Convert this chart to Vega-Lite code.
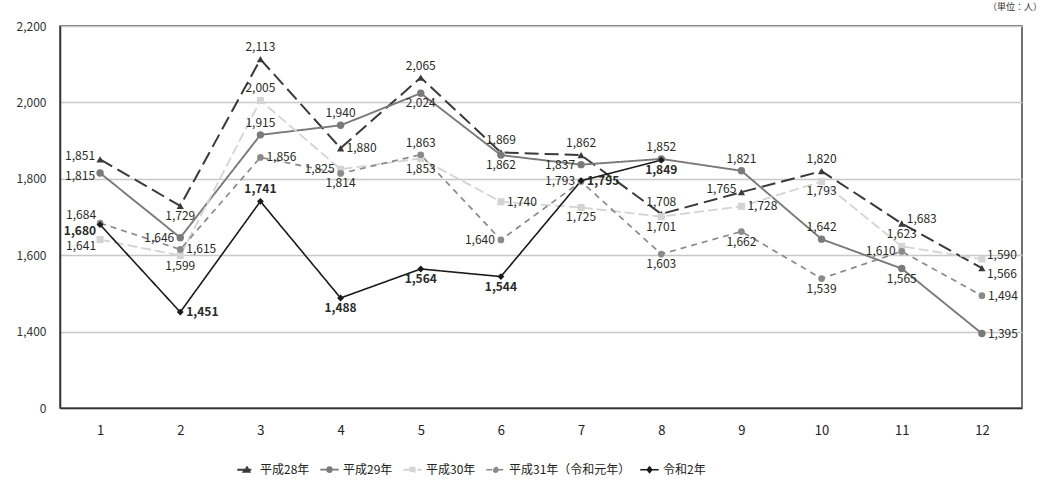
{
  "$schema": "https://vega.github.io/schema/vega-lite/v6.json",
  "width": 962,
  "height": 382,
  "autosize": {"type": "none"},
  "padding": {"left": 60, "top": 26, "right": 32, "bottom": 84},
  "background": "white",
  "config": {
    "font": "Noto Sans CJK JP",
    "view": {"stroke": "#444", "strokeWidth": 1.5}
  },
  "title": {"text": "（単位：人）", "anchor": "end", "fontSize": 9, "fontWeight": "normal", "color": "#333", "offset": 8, "dx": 20},
  "data": {
    "values": [
      {"series": "平成28年", "month": 1, "value": 1851},
      {"series": "平成28年", "month": 2, "value": 1729},
      {"series": "平成28年", "month": 3, "value": 2113},
      {"series": "平成28年", "month": 4, "value": 1880},
      {"series": "平成28年", "month": 5, "value": 2065},
      {"series": "平成28年", "month": 6, "value": 1869},
      {"series": "平成28年", "month": 7, "value": 1862},
      {"series": "平成28年", "month": 8, "value": 1708},
      {"series": "平成28年", "month": 9, "value": 1765},
      {"series": "平成28年", "month": 10, "value": 1820},
      {"series": "平成28年", "month": 11, "value": 1683},
      {"series": "平成28年", "month": 12, "value": 1566},
      {"series": "平成29年", "month": 1, "value": 1815},
      {"series": "平成29年", "month": 2, "value": 1646},
      {"series": "平成29年", "month": 3, "value": 1915},
      {"series": "平成29年", "month": 4, "value": 1940},
      {"series": "平成29年", "month": 5, "value": 2024},
      {"series": "平成29年", "month": 6, "value": 1862},
      {"series": "平成29年", "month": 7, "value": 1837},
      {"series": "平成29年", "month": 8, "value": 1852},
      {"series": "平成29年", "month": 9, "value": 1821},
      {"series": "平成29年", "month": 10, "value": 1642},
      {"series": "平成29年", "month": 11, "value": 1565},
      {"series": "平成29年", "month": 12, "value": 1395},
      {"series": "平成30年", "month": 1, "value": 1641},
      {"series": "平成30年", "month": 2, "value": 1599},
      {"series": "平成30年", "month": 3, "value": 2005},
      {"series": "平成30年", "month": 4, "value": 1825},
      {"series": "平成30年", "month": 5, "value": 1853},
      {"series": "平成30年", "month": 6, "value": 1740},
      {"series": "平成30年", "month": 7, "value": 1725},
      {"series": "平成30年", "month": 8, "value": 1701},
      {"series": "平成30年", "month": 9, "value": 1728},
      {"series": "平成30年", "month": 10, "value": 1793},
      {"series": "平成30年", "month": 11, "value": 1623},
      {"series": "平成30年", "month": 12, "value": 1590},
      {"series": "平成31年（令和元年）", "month": 1, "value": 1684},
      {"series": "平成31年（令和元年）", "month": 2, "value": 1615},
      {"series": "平成31年（令和元年）", "month": 3, "value": 1856},
      {"series": "平成31年（令和元年）", "month": 4, "value": 1814},
      {"series": "平成31年（令和元年）", "month": 5, "value": 1863},
      {"series": "平成31年（令和元年）", "month": 6, "value": 1640},
      {"series": "平成31年（令和元年）", "month": 7, "value": 1793},
      {"series": "平成31年（令和元年）", "month": 8, "value": 1603},
      {"series": "平成31年（令和元年）", "month": 9, "value": 1662},
      {"series": "平成31年（令和元年）", "month": 10, "value": 1539},
      {"series": "平成31年（令和元年）", "month": 11, "value": 1610},
      {"series": "平成31年（令和元年）", "month": 12, "value": 1494},
      {"series": "令和2年", "month": 1, "value": 1680},
      {"series": "令和2年", "month": 2, "value": 1451},
      {"series": "令和2年", "month": 3, "value": 1741},
      {"series": "令和2年", "month": 4, "value": 1488},
      {"series": "令和2年", "month": 5, "value": 1564},
      {"series": "令和2年", "month": 6, "value": 1544},
      {"series": "令和2年", "month": 7, "value": 1795},
      {"series": "令和2年", "month": 8, "value": 1849}
    ]
  },
  "encoding": {
    "x": {
      "field": "month", "type": "ordinal",
      "scale": {"type": "point", "padding": 0.5},
      "axis": {"title": null, "labelAngle": 0, "labelFontSize": 13, "labelColor": "#222", "labelPadding": 16, "ticks": false, "grid": false, "domainColor": "#333", "domainWidth": 1.5}
    },
    "y": {
      "field": "value", "type": "quantitative",
      "scale": {"domain": [1200, 2200], "nice": false, "zero": false},
      "axis": {"title": null, "values": [1200, 1400, 1600, 1800, 2000, 2200], "labelExpr": "datum.value == 1200 ? '0' : format(datum.value, ',')", "grid": true, "gridColor": "#c8c8c8", "gridWidth": 1.5, "ticks": false, "labelPadding": 14, "labelFontSize": 12, "labelColor": "#333", "domainColor": "#333", "domainWidth": 1.5}
    }
  },
  "layer": [
    {
      "mark": {"type": "line"},
      "encoding": {
        "color": {"field": "series", "type": "nominal", "sort": null,
          "scale": {"domain": ["平成28年", "平成29年", "平成30年", "平成31年（令和元年）", "令和2年"], "range": ["#3a3a3a", "#7a7a7a", "#d4d4d4", "#8a8a8a", "#1a1a1a"]},
          "legend": {
            "orient": "none", "legendX": 176, "legendY": 433, "direction": "horizontal", "title": null,
            "labelFontSize": 12, "labelColor": "#222", "symbolSize": 340, "symbolStrokeWidth": 2, "columnPadding": 6, "labelOffset": 3,
            "encode": {"symbols": {"update": {
              "shape": {"signal": "datum.value === '平成28年' ? 'M-1,0H1M0,-0.34L0.32,0.24L-0.32,0.24Z' : datum.value === '平成30年' ? 'M-1,0H1M-0.24,-0.24H0.24V0.24H-0.24Z' : datum.value === '令和2年' ? 'M-1,0H1M0,-0.3L0.24,0L0,0.3L-0.24,0Z' : 'M-1,0H1M0.26,0A0.26,0.26,0,1,1,-0.26,0A0.26,0.26,0,1,1,0.26,0Z'"},
              "fill": {"scale": "color", "field": "value"},
              "fillOpacity": {"value": 1}
            }}}
          }},
        "strokeDash": {"field": "series", "type": "nominal", "sort": null,
          "scale": {"domain": ["平成28年", "平成29年", "平成30年", "平成31年（令和元年）", "令和2年"], "range": [[14, 6], [1, 0], [10, 4], [6, 5], [1, 0]]}},
        "strokeWidth": {"field": "series", "type": "nominal", "sort": null,
          "scale": {"domain": ["平成28年", "平成29年", "平成30年", "平成31年（令和元年）", "令和2年"], "range": [2, 1.6, 2.4, 1.6, 2]}}
      }
    },
    {
      "mark": {"type": "point", "filled": true, "opacity": 1},
      "encoding": {
        "color": {"field": "series", "type": "nominal", "sort": null},
        "shape": {"field": "series", "type": "nominal", "legend": null,
          "scale": {"domain": ["令和2年", "平成31年（令和元年）", "平成30年", "平成29年", "平成28年"], "range": ["diamond", "circle", "square", "circle", "triangle-up"]}},
        "size": {"field": "series", "type": "nominal", "legend": null,
          "scale": {"domain": ["平成29年", "平成28年", "平成30年", "令和2年", "平成31年（令和元年）"], "range": [55, 45, 60, 30, 55]}}
      }
    },
    {
      "transform": [{"filter": "(datum.series=='平成28年' && indexof([3,5,6,7,8,10], datum.month) >= 0) || (datum.series=='平成29年' && indexof([3,4,8,9,10], datum.month) >= 0) || (datum.series=='平成30年' && indexof([3,11], datum.month) >= 0) || (datum.series=='平成31年（令和元年）' && indexof([5], datum.month) >= 0) || (datum.series=='令和2年' && indexof([3], datum.month) >= 0)"}],
      "mark": {"type": "text", "baseline": "bottom", "dy": -5, "fontSize": 12, "color": "#2a2a2a", "fontWeight": {"expr": "datum.series == '令和2年' ? 'bold' : 'normal'"}},
      "encoding": {"text": {"field": "value", "type": "quantitative", "format": ","}}
    },
    {
      "transform": [{"filter": "(datum.series=='平成28年' && indexof([2], datum.month) >= 0) || (datum.series=='平成29年' && indexof([5,6,11], datum.month) >= 0) || (datum.series=='平成30年' && indexof([2,5,7,8,10], datum.month) >= 0) || (datum.series=='平成31年（令和元年）' && indexof([4,8,9,10], datum.month) >= 0) || (datum.series=='令和2年' && indexof([4,5,6,8], datum.month) >= 0)"}],
      "mark": {"type": "text", "baseline": "top", "dy": 5, "fontSize": 12, "color": "#2a2a2a", "fontWeight": {"expr": "datum.series == '令和2年' ? 'bold' : 'normal'"}},
      "encoding": {"text": {"field": "value", "type": "quantitative", "format": ","}}
    },
    {
      "transform": [{"filter": "(datum.series=='平成29年' && indexof([2,7], datum.month) >= 0) || (datum.series=='平成30年' && indexof([4], datum.month) >= 0) || (datum.series=='平成31年（令和元年）' && indexof([6,7,11], datum.month) >= 0)"}],
      "mark": {"type": "text", "align": "right", "baseline": "middle", "dx": -6, "fontSize": 12, "color": "#2a2a2a"},
      "encoding": {"text": {"field": "value", "type": "quantitative", "format": ","}}
    },
    {
      "transform": [{"filter": "(datum.series=='平成28年' && indexof([1,9], datum.month) >= 0)"}],
      "mark": {"type": "text", "align": "right", "baseline": "middle", "dx": -5, "dy": -3, "fontSize": 12, "color": "#2a2a2a"},
      "encoding": {"text": {"field": "value", "type": "quantitative", "format": ","}}
    },
    {
      "transform": [{"filter": "(datum.series=='平成29年' && datum.month == 1)"}],
      "mark": {"type": "text", "align": "right", "baseline": "middle", "dx": -5, "dy": 3, "fontSize": 12, "color": "#2a2a2a"},
      "encoding": {"text": {"field": "value", "type": "quantitative", "format": ","}}
    },
    {
      "transform": [{"filter": "(datum.series=='平成31年（令和元年）' && datum.month == 1)"}],
      "mark": {"type": "text", "align": "right", "baseline": "bottom", "dx": -4, "dy": -1, "fontSize": 12, "color": "#2a2a2a"},
      "encoding": {"text": {"field": "value", "type": "quantitative", "format": ","}}
    },
    {
      "transform": [{"filter": "(datum.series=='令和2年' && datum.month == 1) || (datum.series=='平成30年' && datum.month == 1)"}],
      "mark": {"type": "text", "align": "right", "baseline": "top", "dx": -4, "dy": 1, "fontSize": 12, "color": "#2a2a2a", "fontWeight": {"expr": "datum.series == '令和2年' ? 'bold' : 'normal'"}},
      "encoding": {"text": {"field": "value", "type": "quantitative", "format": ","}}
    },
    {
      "transform": [{"filter": "(datum.series=='平成28年' && indexof([4], datum.month) >= 0) || (datum.series=='平成29年' && indexof([12], datum.month) >= 0) || (datum.series=='平成30年' && indexof([6,9], datum.month) >= 0) || (datum.series=='平成31年（令和元年）' && indexof([2,3,12], datum.month) >= 0) || (datum.series=='令和2年' && indexof([2,7], datum.month) >= 0)"}],
      "mark": {"type": "text", "align": "left", "baseline": "middle", "dx": 6, "fontSize": 12, "color": "#2a2a2a", "fontWeight": {"expr": "datum.series == '令和2年' ? 'bold' : 'normal'"}},
      "encoding": {"text": {"field": "value", "type": "quantitative", "format": ","}}
    },
    {
      "transform": [{"filter": "(datum.series=='平成30年' && datum.month == 12) || (datum.series=='平成28年' && datum.month == 11)"}],
      "mark": {"type": "text", "align": "left", "baseline": "bottom", "dx": 5, "dy": 3, "fontSize": 12, "color": "#2a2a2a"},
      "encoding": {"text": {"field": "value", "type": "quantitative", "format": ","}}
    },
    {
      "transform": [{"filter": "(datum.series=='平成28年' && datum.month == 12)"}],
      "mark": {"type": "text", "align": "left", "baseline": "top", "dx": 5, "dy": 1, "fontSize": 12, "color": "#2a2a2a"},
      "encoding": {"text": {"field": "value", "type": "quantitative", "format": ","}}
    }
  ]
}
